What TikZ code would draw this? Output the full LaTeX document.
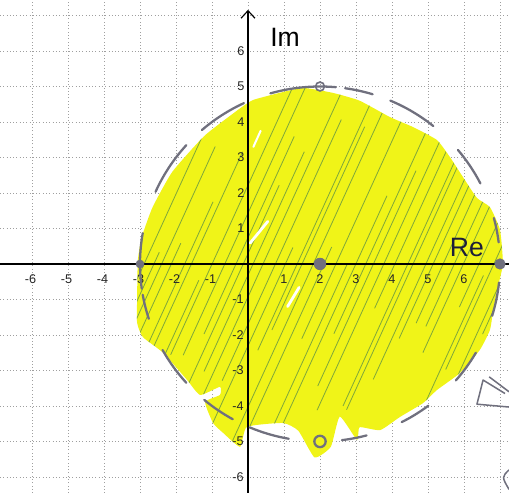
\documentclass[tikz,border=0pt]{standalone}
\usepackage{fontspec}
\setmainfont{Liberation Sans}
\usetikzlibrary{arrows.meta}
\definecolor{hlyellow}{RGB}{240,244,24}
\definecolor{hatchgreen}{RGB}{128,168,58}
\definecolor{pencil}{RGB}{112,112,126}
\definecolor{inkblue}{RGB}{28,30,58}
% outline of the coloured-in region
\newcommand{\regionpath}{plot[smooth cycle, tension=0.3] coordinates {
  (7.08,0) (7.0,0.96) (6.72,1.6) (6.36,1.86) (5.97,2.45) (5.61,3.01) (5.25,3.49)
  (4.6,3.85) (3.94,4.14) (3.1,4.6) (2.36,4.82) (1.53,4.96) (0.8,4.8) (0.14,4.62)
  (-0.2,4.4) (-1.2,3.62) (-2.1,2.6) (-2.65,1.6) (-2.95,0.76) (-3.06,0.11)
  (-3.08,-0.93) (-3.08,-1.66) (-2.92,-2.06) (-2.36,-2.5) (-1.69,-3.27) (-1.33,-3.69)
  (-0.78,-3.46) (-0.78,-3.69) (-1.19,-3.89) (-0.97,-4.48) (-0.69,-4.76) (-0.22,-5.15)
  (-0.03,-4.59) (0.97,-4.48) (1.4,-4.7) (1.85,-5.45) (2.3,-5.15) (2.55,-4.3)
  (3.03,-4.96) (3.1,-4.6) (3.67,-4.68) (4.22,-4.31) (4.86,-3.92) (5.25,-3.55)
  (5.89,-3.07) (6.44,-2.42) (6.72,-1.86) (6.8,-1.38) (6.92,-0.73)}}

\begin{document}
\begin{tikzpicture}[
  x=1cm, y=0.986cm,
  gridln/.style={gray!75, dotted, line width=0.6pt},
  axln/.style={black, line width=0.9pt},
  hatch/.style={hatchgreen, line width=0.65pt},
  bound/.style={pencil, line width=1.8pt, line cap=round},
  dotmark/.style={circle, draw=pencil, fill=pencil, line width=0.8pt, minimum size=9pt, inner sep=0pt},
  ringmark/.style={circle, draw=pencil, line width=1.3pt, minimum size=7pt, inner sep=0pt},
  ticklbl/.style={font=\fontsize{10}{10}\selectfont, text=black!85, inner sep=1pt},
  axlbl/.style={font=\fontsize{21}{21}\selectfont, inner sep=0pt},
]
\useasboundingbox (-6.889,-6.451) rectangle (7.25,7.437);

% Grid
\foreach \i in {-6,...,7}
  \draw[gridln] (\i,-6.451) -- (\i,7.437);
\foreach \j in {-6,...,7}
  \draw[gridln] (-6.889,\j) -- (7.25,\j);

% Shaded region (disk |z-2| <= 5, coloured in by hand)
\fill[hlyellow] \regionpath;

% Hatching
\begin{scope}
  \clip \regionpath;
  \pgfmathsetseed{11}
  \foreach \s in {-8.2,-7.92,...,6.8} {
    \pgfmathsetmacro\dx{0.16*rnd-0.08}
    \pgfmathsetmacro\ya{-5.6+4.5*rnd}
    \pgfmathsetmacro\yb{\ya+4+7*rnd}
    \draw[hatch] (\s+\dx+0.45*\ya+2.5,\ya) -- (\s+\dx+0.45*\yb+2.5,\yb);
  }
\end{scope}
\draw[white, line width=2.2pt, line cap=round] (0.06,0.59) -- (0.55,1.2);
\draw[white, line width=2.2pt, line cap=round] (1.1,-1.2) -- (1.42,-0.66);
\draw[white, line width=1.6pt, line cap=round] (0.15,3.3) -- (0.35,3.75);

% Axes
\coordinate (xl) at (-6.889,0);
\coordinate (xr) at (7.25,0);
\coordinate (yb) at (0,-6.451);
\coordinate (yt) at (0,7.16);
\draw[axln] (xl) -- (xr);
\draw[axln, -{Straight Barb[length=6pt, width=11pt, line width=0.9pt]}] (yb) -- (yt);

% Tick labels
\foreach \i in {-6,...,-1}
  \node[ticklbl] (x\i) at (\i-0.04,-0.42) {\i};
\foreach \i in {1,...,6}
  \node[ticklbl] (x\i) at (\i,-0.42) {\i};
\foreach \j in {1,...,6}
  \node[ticklbl, anchor=east] (y\j) at (-0.06,\j) {\j};
\foreach \j in {-6,...,-1}
  \node[ticklbl, anchor=east] (y\j) at (-0.08,\j) {\j};

\node[axlbl] (Im) at (1.03,6.38) {Im};
\node[axlbl, text=inkblue] (Re) at (6.08,0.47) {Re};

% Boundary circle |z-2| = 5, pencil dashes
\foreach \a/\b in {170/188, 190/198, 209/222, 230/241, 247/260, 277/285,
                   297/307, 319/330, 343/354, 7/15, 27/40, 51/67, 73/82,
                   85/106, 115/131, 138/156}
  \draw[bound] (2,0) ++(\a:5) arc[start angle=\a, end angle=\b, radius=5];

% Marked points
\node[dotmark] (c)  at (2,0)  {};
\node[dotmark, minimum size=8pt] (pr) at (7,0)  {};
\node[dotmark, minimum size=6pt] (pl) at (-3,0) {};
\node[ringmark] (pt) at (2,5)  {};
\node[ringmark, minimum size=9pt, line width=1.8pt] (pb) at (2,-5) {};

% Pencil marks at the page edge
\draw[pencil, line width=1.2pt, line join=round]
  (7.14,-3.65) -- (6.53,-3.27) -- (6.36,-3.95) -- (7.25,-4.03);
\draw[pencil, line width=1.2pt] (6.7,-3.18) -- (7.25,-3.6);
\draw[pencil, line width=1.2pt] (7.25,-5.8) .. controls (7.05,-6.0) .. (7.25,-6.35);

\end{tikzpicture}
\end{document}
